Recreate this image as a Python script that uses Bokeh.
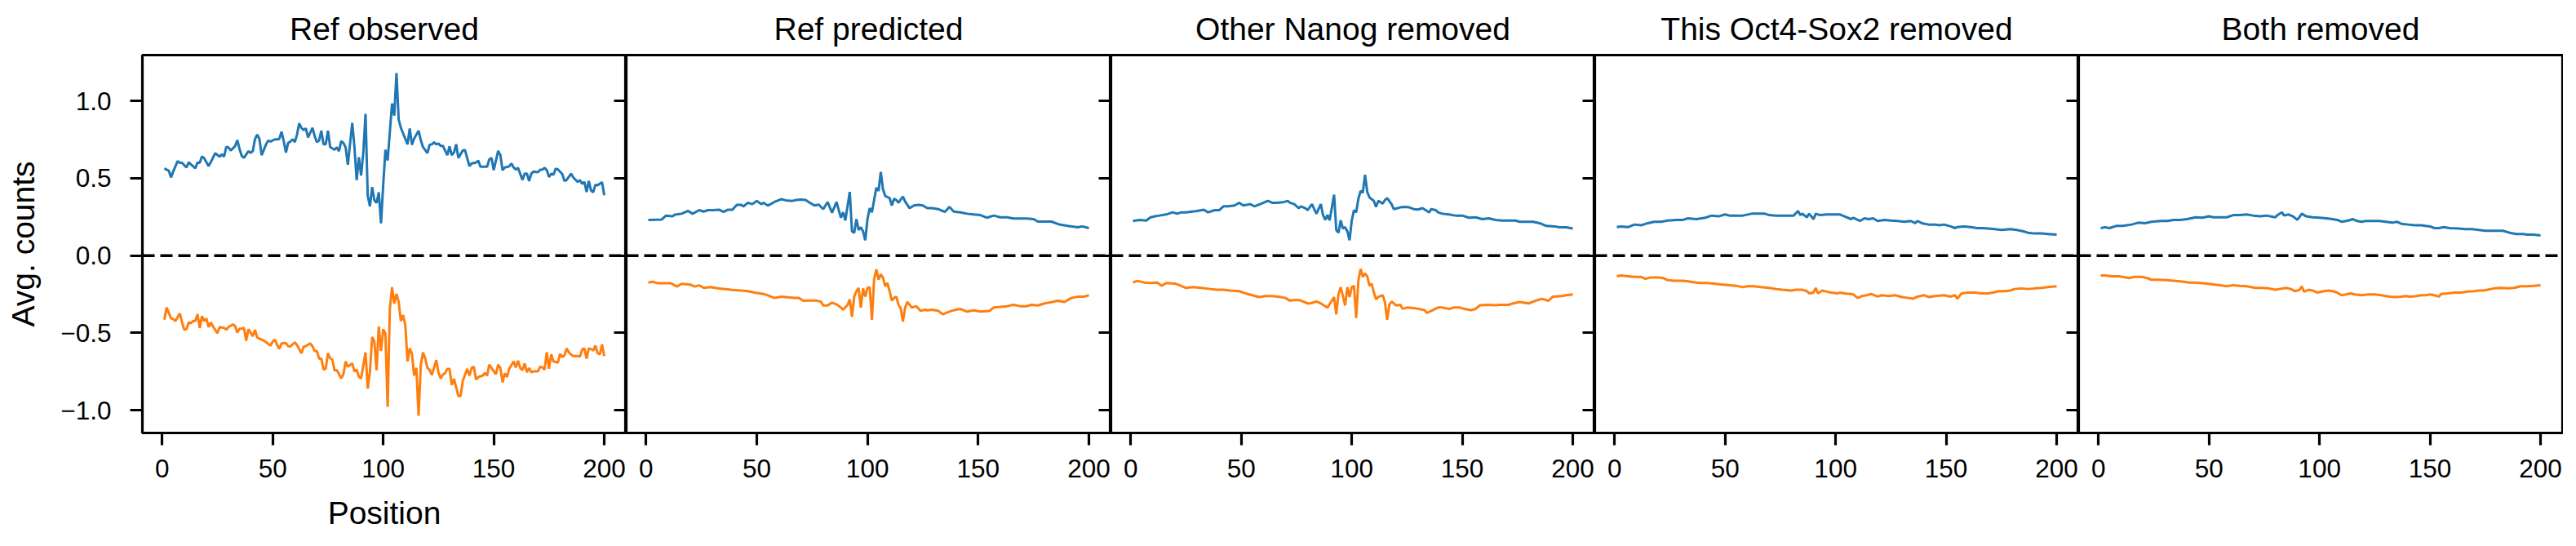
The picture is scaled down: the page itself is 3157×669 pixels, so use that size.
from bokeh.plotting import figure
from bokeh.layouts import row
from bokeh.models import Range1d, FixedTicker, LinearAxis, Span, CustomJSTickFormatter
from bokeh.embed import file_html
from bokeh.resources import INLINE

titles = ["Ref observed", "Ref predicted", "Other Nanog removed",
          "This Oct4-Sox2 removed", "Both removed"]
x_ticks = [0, 50, 100, 150, 200]
y_ticks = [-1.0, -0.5, 0.0, 0.5, 1.0]
x_label = "Position"
y_label = "Avg. counts"

# ---- Ref observed ----
obs_pos = [(1,.565),(2,.556),(3,.55),(4,.506),(5,.544),(7,.611),(8,.60),(9,.60),(11,.57),(12,.604),(13,.59),(15,.565),(16,.602),(17,.60),(18,.641),(19,.63),(21,.579),(22,.605),(24,.662),(26,.64),(27,.655),(28,.64),(29,.703),(30,.70),(31,.68),(33,.708),(34,.747),(35,.69),(36,.645),(37,.633),(39,.675),(40,.665),(41,.675),(42,.755),(43,.782),(44,.755),(45,.65),(47,.72),(48,.744),(49,.738),(51,.752),(52,.752),(53,.755),(54,.801),(55,.74),(56,.667),(57,.729),(58,.738),(59,.752),(60,.735),(61,.782),(62,.856),(63,.826),(64,.812),(65,.823),(66,.765),(68,.826),(69,.773),(70,.734),(71,.745),(72,.808),(73,.72),(74,.72),(75,.808),(76,.702),(78,.685),(79,.70),(80,.676),(81,.741),(82,.729),(83,.70),(84,.588),(86,.858),(87,.70),(88,.488),(89,.636),(90,.518),(91,.667),(92,.917),(93,.386),(94,.319),(95,.443),(96,.359),(97,.341),(98,.41),(99,.209),(100,.457),(101,.685),(102,.615),(104,.984),(105,.905),(106,1.181),(107,.879),(108,.826),(109,.79),(111,.72),(112,.822),(113,.717),(114,.757),(116,.808),(117,.747),(118,.702),(120,.663),(121,.717),(122,.72),(123,.733),(124,.72),(125,.725),(126,.71),(127,.71),(129,.65),(130,.707),(131,.65),(132,.667),(133,.72),(134,.632),(136,.68),(137,.683),(139,.579),(140,.596),(142,.602),(143,.614),(144,.575),(145,.575),(147,.575),(148,.623),(149,.632),(150,.553),(152,.677),(153,.65),(154,.553),(155,.57),(157,.577),(158,.596),(159,.57),(160,.557),(161,.567),(163,.49),(164,.53),(165,.53),(166,.483),(167,.53),(168,.544),(170,.539),(171,.556),(172,.556),(173,.568),(174,.553),(175,.509),(176,.53),(177,.523),(178,.562),(179,.558),(181,.528),(182,.483),(183,.49),(185,.53),(186,.505),(188,.477),(189,.488),(190,.465),(191,.477),(192,.412),(193,.483),(194,.422),(195,.41),(196,.458),(197,.455),(199,.475),(200,.39)]
obs_neg = [(1,-.415),(2,-.336),(3,-.37),(4,-.406),(5,-.41),(6,-.423),(8,-.374),(9,-.43),(10,-.48),(11,-.475),(12,-.432),(13,-.437),(14,-.423),(15,-.423),(16,-.379),(17,-.468),(18,-.391),(19,-.423),(20,-.406),(21,-.462),(22,-.432),(23,-.458),(25,-.502),(26,-.462),(28,-.467),(29,-.479),(30,-.462),(32,-.445),(33,-.455),(34,-.498),(35,-.472),(36,-.472),(37,-.467),(38,-.55),(39,-.476),(41,-.521),(42,-.48),(43,-.53),(45,-.543),(46,-.55),(47,-.56),(49,-.582),(50,-.556),(51,-.543),(52,-.578),(53,-.603),(54,-.568),(56,-.565),(57,-.586),(58,-.587),(60,-.561),(61,-.578),(63,-.631),(64,-.59),(65,-.585),(67,-.568),(68,-.586),(69,-.617),(70,-.617),(71,-.666),(72,-.666),(73,-.737),(74,-.731),(75,-.631),(76,-.664),(77,-.673),(78,-.744),(79,-.74),(81,-.793),(82,-.767),(83,-.684),(84,-.719),(86,-.697),(87,-.749),(88,-.737),(89,-.784),(90,-.793),(92,-.626),(93,-.86),(94,-.749),(95,-.526),(96,-.556),(97,-.741),(98,-.459),(99,-.617),(100,-.476),(101,-.504),(102,-.978),(103,-.345),(104,-.204),(105,-.31),(106,-.248),(107,-.301),(108,-.423),(109,-.385),(110,-.45),(111,-.684),(112,-.6),(113,-.635),(114,-.775),(115,-.726),(116,-1.036),(117,-.705),(118,-.626),(119,-.666),(120,-.726),(121,-.74),(122,-.772),(124,-.676),(125,-.756),(126,-.794),(127,-.77),(128,-.76),(129,-.732),(130,-.732),(131,-.837),(132,-.797),(134,-.908),(135,-.908),(136,-.811),(138,-.732),(139,-.776),(140,-.727),(141,-.719),(142,-.802),(143,-.785),(145,-.776),(146,-.759),(147,-.776),(148,-.705),(149,-.727),(151,-.767),(152,-.705),(153,-.727),(154,-.82),(155,-.762),(156,-.785),(157,-.732),(159,-.684),(160,-.723),(161,-.679),(162,-.727),(163,-.741),(164,-.697),(165,-.754),(166,-.727),(167,-.754),(168,-.749),(170,-.749),(171,-.719),(172,-.723),(173,-.737),(174,-.626),(175,-.732),(176,-.639),(177,-.684),(178,-.688),(179,-.692),(180,-.635),(181,-.657),(182,-.644),(183,-.60),(184,-.626),(185,-.64),(186,-.65),(188,-.65),(189,-.653),(190,-.608),(191,-.60),(192,-.666),(193,-.60),(194,-.604),(195,-.614),(196,-.582),(197,-.631),(198,-.639),(199,-.574),(200,-.65)]

# ---- Ref predicted ----
pred_pos = [(1,.231),(4,.232),(7,.233),(9,.259),(12,.255),(13,.265),(16,.271),(19,.289),(21,.271),(24,.294),(26,.285),(28,.294),(30,.294),(33,.297),(35,.283),(37,.297),(39,.297),(41,.329),(43,.329),(44,.318),(46,.342),(48,.333),(50,.354),(52,.333),(53,.342),(55,.324),(58,.347),(61,.365),(63,.358),(66,.354),(68,.36),(70,.363),(72,.36),(74,.342),(76,.324),(78,.33),(80,.301),(82,.347),(84,.277),(86,.347),(88,.245),(89,.28),(90,.228),(92,.412),(93,.157),(94,.148),(95,.236),(96,.166),(97,.184),(98,.157),(99,.1),(100,.236),(101,.307),(102,.28),(103,.36),(104,.439),(105,.418),(106,.541),(107,.43),(108,.386),(110,.372),(111,.324),(112,.368),(113,.36),(114,.342),(116,.382),(117,.35),(119,.307),(121,.324),(123,.328),(125,.324),(127,.307),(129,.307),(132,.301),(133,.294),(135,.283),(137,.315),(139,.285),(142,.28),(145,.271),(148,.266),(151,.262),(154,.245),(157,.259),(160,.248),(163,.248),(166,.24),(169,.24),(172,.24),(175,.236),(177,.22),(180,.22),(183,.22),(187,.2),(191,.191),(195,.183),(197,.189),(200,.178)]
pred_neg = [(1,-.174),(3,-.169),(5,-.178),(8,-.178),(11,-.178),(14,-.2),(16,-.182),(20,-.187),(22,-.2),(24,-.192),(26,-.209),(29,-.204),(33,-.213),(36,-.217),(39,-.222),(43,-.226),(46,-.23),(49,-.239),(53,-.248),(55,-.257),(58,-.274),(61,-.265),(64,-.27),(67,-.274),(69,-.274),(71,-.292),(73,-.291),(75,-.29),(77,-.291),(79,-.298),(80,-.322),(82,-.322),(84,-.304),(86,-.315),(88,-.336),(89,-.35),(91,-.32),(92,-.283),(93,-.397),(94,-.265),(95,-.23),(96,-.209),(97,-.336),(98,-.212),(99,-.265),(100,-.209),(101,-.204),(102,-.415),(103,-.151),(104,-.089),(105,-.156),(106,-.121),(107,-.142),(108,-.198),(109,-.177),(110,-.23),(111,-.291),(112,-.274),(113,-.265),(114,-.318),(115,-.34),(116,-.427),(117,-.336),(118,-.3),(120,-.336),(122,-.327),(124,-.357),(126,-.35),(127,-.354),(129,-.35),(132,-.357),(134,-.38),(136,-.368),(138,-.357),(140,-.35),(142,-.345),(145,-.362),(148,-.354),(151,-.362),(155,-.358),(157,-.336),(160,-.332),(163,-.327),(166,-.318),(169,-.327),(172,-.327),(174,-.318),(177,-.322),(180,-.309),(183,-.301),(186,-.292),(189,-.3),(192,-.274),(195,-.265),(198,-.265),(200,-.256)]

# ---- Other Nanog removed ----
nanog_pos = [(1,.224),(4,.231),(7,.227),(9,.248),(11,.254),(13,.259),(16,.266),(19,.28),(21,.271),(23,.28),(25,.28),(27,.284),(30,.289),(33,.297),(35,.28),(38,.294),(40,.294),(42,.319),(44,.319),(47,.324),(49,.342),(51,.324),(54,.333),(56,.319),(59,.336),(62,.354),(64,.342),(66,.342),(69,.345),(71,.354),(72,.342),(74,.333),(76,.307),(77,.319),(79,.307),(80,.294),(82,.333),(84,.271),(86,.333),(87,.263),(88,.231),(89,.263),(90,.228),(92,.394),(93,.166),(94,.148),(95,.228),(96,.175),(97,.184),(98,.157),(99,.1),(100,.228),(101,.294),(102,.28),(103,.368),(104,.418),(105,.407),(106,.523),(107,.412),(108,.377),(109,.365),(110,.354),(111,.315),(112,.354),(114,.337),(115,.359),(116,.372),(118,.333),(119,.301),(122,.312),(124,.315),(126,.312),(128,.301),(130,.298),(132,.307),(134,.289),(135,.28),(136,.301),(138,.294),(139,.28),(141,.271),(144,.266),(147,.259),(150,.259),(153,.245),(156,.248),(159,.236),(162,.241),(165,.231),(168,.227),(171,.227),(174,.227),(176,.219),(179,.219),(182,.219),(185,.21),(188,.192),(192,.189),(194,.183),(197,.183),(200,.175)]
nanog_neg = [(1,-.174),(3,-.163),(6,-.174),(9,-.177),(12,-.174),(14,-.195),(16,-.177),(20,-.181),(22,-.191),(25,-.209),(28,-.204),(32,-.209),(36,-.216),(39,-.221),(42,-.221),(45,-.226),(49,-.23),(52,-.244),(55,-.256),(58,-.268),(61,-.261),(64,-.261),(68,-.268),(70,-.274),(72,-.291),(75,-.286),(77,-.291),(80,-.309),(81,-.309),(84,-.297),(86,-.309),(88,-.327),(89,-.336),(91,-.291),(92,-.268),(93,-.38),(94,-.248),(95,-.204),(97,-.322),(98,-.204),(99,-.268),(100,-.204),(101,-.195),(102,-.403),(103,-.16),(104,-.086),(105,-.138),(106,-.116),(107,-.133),(108,-.195),(109,-.181),(110,-.239),(111,-.283),(112,-.268),(114,-.256),(115,-.3),(116,-.415),(117,-.318),(118,-.297),(120,-.322),(122,-.318),(123,-.344),(125,-.336),(128,-.339),(130,-.344),(133,-.353),(134,-.371),(136,-.357),(139,-.336),(141,-.336),(144,-.345),(146,-.336),(149,-.336),(151,-.345),(154,-.353),(156,-.345),(158,-.321),(161,-.318),(165,-.321),(167,-.318),(171,-.318),(173,-.309),(176,-.3),(180,-.309),(183,-.292),(186,-.279),(189,-.292),(191,-.265),(195,-.261),(197,-.256),(200,-.251)]

# ---- This Oct4-Sox2 removed ----
oct_pos = [(1,.184),(3,.189),(6,.184),(9,.201),(12,.196),(15,.21),(18,.219),(21,.219),(24,.227),(28,.231),(31,.231),(33,.241),(37,.236),(41,.245),(44,.259),(47,.254),(50,.266),(52,.259),(55,.259),(58,.259),(62,.271),(65,.271),(68,.271),(70,.262),(73,.259),(76,.259),(79,.259),(81,.259),(83,.289),(84,.262),(85,.271),(87,.248),(88,.271),(90,.236),(91,.271),(93,.262),(96,.266),(99,.266),(102,.266),(104,.254),(107,.236),(108,.245),(111,.224),(113,.241),(115,.236),(117,.241),(119,.224),(122,.231),(125,.227),(128,.224),(131,.219),(134,.224),(136,.21),(137,.224),(139,.21),(142,.201),(145,.201),(147,.196),(149,.201),(152,.189),(154,.178),(155,.184),(158,.189),(161,.184),(164,.178),(166,.178),(169,.175),(172,.171),(175,.166),(179,.171),(182,.166),(185,.157),(187,.148),(190,.143),(193,.143),(196,.14),(200,.136)]
oct_neg = [(1,-.133),(3,-.128),(6,-.133),(9,-.138),(12,-.138),(14,-.15),(16,-.142),(20,-.142),(22,-.145),(24,-.159),(27,-.163),(31,-.163),(34,-.168),(37,-.174),(39,-.177),(42,-.177),(45,-.181),(48,-.186),(52,-.191),(55,-.195),(58,-.204),(60,-.198),(63,-.198),(66,-.204),(70,-.209),(73,-.216),(76,-.221),(80,-.226),(82,-.221),(85,-.221),(87,-.23),(88,-.244),(90,-.239),(91,-.209),(92,-.244),(94,-.226),(96,-.233),(98,-.239),(101,-.244),(102,-.239),(104,-.244),(107,-.248),(108,-.251),(110,-.274),(112,-.261),(114,-.256),(116,-.248),(119,-.265),(121,-.256),(124,-.261),(127,-.256),(130,-.268),(133,-.274),(135,-.279),(137,-.265),(140,-.256),(142,-.268),(145,-.261),(149,-.256),(152,-.265),(154,-.256),(155,-.279),(157,-.244),(160,-.239),(163,-.239),(166,-.244),(169,-.244),(171,-.239),(174,-.23),(177,-.23),(179,-.226),(181,-.216),(184,-.212),(187,-.216),(190,-.212),(193,-.209),(196,-.204),(200,-.198)]

# ---- Both removed ----
both_pos = [(1,.178),(3,.184),(5,.178),(8,.192),(11,.192),(15,.201),(18,.213),(21,.21),(24,.219),(28,.224),(31,.224),(34,.231),(37,.231),(40,.236),(44,.248),(47,.245),(50,.254),(52,.248),(55,.248),(58,.248),(61,.262),(64,.262),(67,.266),(70,.259),(73,.254),(76,.259),(80,.248),(81,.262),(83,.28),(84,.259),(86,.266),(88,.254),(90,.231),(92,.271),(94,.254),(97,.248),(100,.245),(103,.241),(106,.236),(108,.231),(110,.219),(113,.227),(115,.236),(117,.224),(119,.219),(121,.224),(124,.224),(127,.224),(130,.219),(133,.213),(135,.219),(137,.206),(140,.201),(143,.196),(146,.196),(148,.192),(150,.189),(152,.178),(154,.178),(156,.184),(159,.178),(163,.175),(166,.171),(169,.171),(172,.166),(175,.161),(178,.161),(181,.161),(183,.161),(186,.148),(189,.14),(192,.14),(194,.136),(197,.136),(200,.131)]
both_neg = [(1,-.128),(3,-.128),(6,-.133),(9,-.133),(11,-.138),(14,-.145),(16,-.138),(20,-.138),(22,-.145),(24,-.156),(27,-.156),(31,-.159),(34,-.163),(38,-.168),(41,-.174),(43,-.174),(46,-.177),(49,-.181),(52,-.186),(55,-.191),(58,-.198),(61,-.191),(64,-.195),(67,-.198),(71,-.209),(74,-.209),(77,-.212),(80,-.221),(82,-.216),(85,-.209),(87,-.216),(89,-.23),(91,-.221),(92,-.198),(93,-.233),(95,-.221),(97,-.226),(99,-.239),(102,-.23),(104,-.226),(106,-.23),(108,-.239),(110,-.256),(112,-.251),(114,-.244),(116,-.251),(119,-.256),(122,-.251),(125,-.251),(128,-.256),(130,-.261),(132,-.265),(134,-.268),(137,-.265),(139,-.261),(141,-.265),(144,-.261),(146,-.256),(148,-.256),(150,-.251),(152,-.256),(154,-.265),(155,-.248),(158,-.244),(161,-.239),(164,-.239),(167,-.233),(170,-.23),(172,-.226),(174,-.226),(176,-.221),(179,-.212),(182,-.209),(185,-.212),(188,-.209),(191,-.198),(194,-.198),(197,-.195),(200,-.191)]

series = [(obs_pos, obs_neg), (pred_pos, pred_neg), (nanog_pos, nanog_neg),
          (oct_pos, oct_neg), (both_pos, both_neg)]

BLUE = "#1f77b4"
ORANGE = "#ff7f0e"
FONT = "Liberation Sans"
TICK_FS = "31.5px"
LABEL_FS = "39px"
SPINE_W = 3.2

x_min, x_max = -8.95, 209.95
y_min, y_max = -1.147, 1.297

y_fmt = CustomJSTickFormatter(code="""
    const s = Math.abs(tick).toFixed(1);
    return (tick < -1e-9 ? "\\u2212" : "") + s;
""")

figs = []
n = len(titles)
for i, (title, (pos, neg)) in enumerate(zip(titles, series)):
    first = (i == 0)
    last = (i == n - 1)
    p = figure(
        frame_width=593 if i != 1 else 594,
        frame_height=463,
        min_border_left=174 if first else 0,
        min_border_right=1 if last else 0,
        min_border_top=67,
        min_border_bottom=110,
        x_range=Range1d(x_min, x_max),
        y_range=Range1d(y_min, y_max),
        toolbar_location=None,
        output_backend="svg",
        y_axis_location="left" if first else None,
        title=title,
    )
    p.xgrid.visible = False
    p.ygrid.visible = False
    p.background_fill_color = "white"
    p.border_fill_color = "white"
    p.outline_line_color = "black"
    p.outline_line_width = SPINE_W

    p.title.align = "center"
    p.title.text_font = FONT
    p.title.text_font_size = LABEL_FS
    p.title.text_font_style = "normal"
    p.title.text_color = "black"
    p.title.standoff = 22

    xa = p.xaxis[0]
    xa.ticker = FixedTicker(ticks=x_ticks)
    xa.axis_line_color = None
    xa.major_tick_out = 15
    xa.major_tick_in = 0
    xa.major_tick_line_width = SPINE_W
    xa.major_tick_line_color = "black"
    xa.minor_tick_line_color = None
    xa.major_label_text_font = FONT
    xa.major_label_text_font_size = TICK_FS
    xa.major_label_text_color = "black"
    xa.major_label_standoff = 17
    if first:
        xa.axis_label = x_label
        xa.axis_label_text_font = FONT
        xa.axis_label_text_font_size = LABEL_FS
        xa.axis_label_text_font_style = "normal"
        xa.axis_label_text_color = "black"
        xa.axis_label_standoff = 19

        ya = p.yaxis[0]
        ya.ticker = FixedTicker(ticks=y_ticks)
        ya.formatter = y_fmt
        ya.axis_line_color = None
        ya.major_tick_out = 15
        ya.major_tick_in = 0
        ya.major_tick_line_width = SPINE_W
        ya.major_tick_line_color = "black"
        ya.minor_tick_line_color = None
        ya.major_label_text_font = FONT
        ya.major_label_text_font_size = TICK_FS
        ya.major_label_text_color = "black"
        ya.major_label_standoff = 23
        ya.axis_label = y_label
        ya.axis_label_text_font = FONT
        ya.axis_label_text_font_size = LABEL_FS
        ya.axis_label_text_font_style = "normal"
        ya.axis_label_text_color = "black"
        ya.axis_label_standoff = 21

    if not last:
        # ticks of the next panel's left spine, which point into this panel
        ra = LinearAxis(fixed_location=x_max, ticker=FixedTicker(ticks=y_ticks),
                        major_tick_in=15, major_tick_out=0,
                        major_tick_line_width=SPINE_W, major_tick_line_color="black",
                        minor_tick_line_color=None, axis_line_color=None,
                        major_label_text_color=None, major_label_text_alpha=0,
                        major_label_standoff=0)
        p.add_layout(ra, "right")

    p.add_layout(Span(location=0, dimension="width", line_color="black",
                      line_width=3.5, line_dash="15 7"))

    px, py = zip(*pos)
    nx, ny = zip(*neg)
    p.line(list(px), list(py), line_color=BLUE, line_width=3)
    p.line(list(nx), list(ny), line_color=ORANGE, line_width=3)
    figs.append(p)

layout = row(*figs, spacing=0)
open("out.html", "w").write(file_html(layout, INLINE))
